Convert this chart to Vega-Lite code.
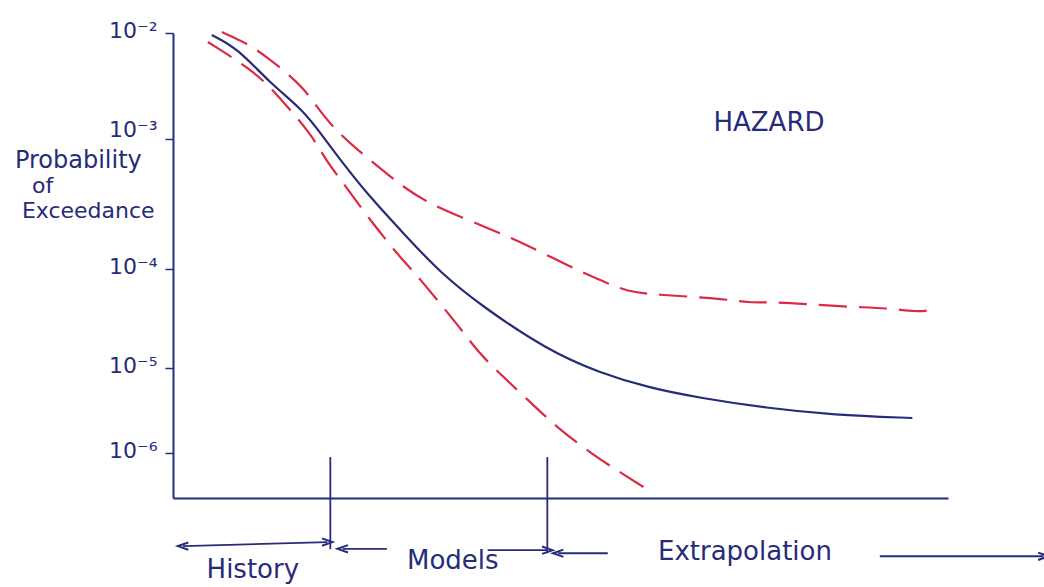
{
  "$schema": "https://vega.github.io/schema/vega-lite/v6.json",
  "width": 775,
  "height": 465,
  "autosize": "none",
  "padding": {"left": 173, "top": 33, "right": 96, "bottom": 89},
  "background": "white",
  "config": {"view": {"stroke": null}, "font": "DejaVu Sans"},
  "datasets": {
    "curves": [
      {"series": "central", "x": 5.0, "p": 0.00957},
      {"series": "central", "x": 8.3, "p": 0.00722},
      {"series": "central", "x": 12.5, "p": 0.00337},
      {"series": "central", "x": 16.8, "p": 0.00188},
      {"series": "central", "x": 19.4, "p": 0.001045},
      {"series": "central", "x": 21.9, "p": 0.000654},
      {"series": "central", "x": 25.4, "p": 0.000358},
      {"series": "central", "x": 29.7, "p": 0.000189},
      {"series": "central", "x": 34.5, "p": 0.0000912},
      {"series": "central", "x": 40.0, "p": 0.0000413},
      {"series": "central", "x": 48.3, "p": 0.0000152},
      {"series": "central", "x": 55.1, "p": 0.00000873},
      {"series": "central", "x": 61.5, "p": 0.00000582},
      {"series": "central", "x": 68.0, "p": 0.00000444},
      {"series": "central", "x": 76.6, "p": 0.00000338},
      {"series": "central", "x": 85.2, "p": 0.0000028},
      {"series": "central", "x": 95.4, "p": 0.00000258},
      {"series": "upper", "x": 6.3, "p": 0.0102},
      {"series": "upper", "x": 9.5, "p": 0.00805},
      {"series": "upper", "x": 12.1, "p": 0.00594},
      {"series": "upper", "x": 14.7, "p": 0.0042},
      {"series": "upper", "x": 16.8, "p": 0.00303},
      {"series": "upper", "x": 18.7, "p": 0.00196},
      {"series": "upper", "x": 20.6, "p": 0.0013},
      {"series": "upper", "x": 23.5, "p": 0.000853},
      {"series": "upper", "x": 27.0, "p": 0.000578},
      {"series": "upper", "x": 29.7, "p": 0.000428},
      {"series": "upper", "x": 32.9, "p": 0.000322},
      {"series": "upper", "x": 37.4, "p": 0.000247},
      {"series": "upper", "x": 41.8, "p": 0.000193},
      {"series": "upper", "x": 45.7, "p": 0.000153},
      {"series": "upper", "x": 50.8, "p": 0.000107},
      {"series": "upper", "x": 55.1, "p": 0.0000774},
      {"series": "upper", "x": 58.6, "p": 0.0000586},
      {"series": "upper", "x": 62.8, "p": 0.0000546},
      {"series": "upper", "x": 70.2, "p": 0.0000509},
      {"series": "upper", "x": 74.5, "p": 0.0000454},
      {"series": "upper", "x": 77.4, "p": 0.0000464},
      {"series": "upper", "x": 81.8, "p": 0.0000442},
      {"series": "upper", "x": 87.4, "p": 0.0000413},
      {"series": "upper", "x": 92.1, "p": 0.0000404},
      {"series": "upper", "x": 96.0, "p": 0.0000368},
      {"series": "upper", "x": 97.7, "p": 0.0000385},
      {"series": "lower", "x": 4.5, "p": 0.00822},
      {"series": "lower", "x": 10.2, "p": 0.00448},
      {"series": "lower", "x": 12.9, "p": 0.0029},
      {"series": "lower", "x": 15.1, "p": 0.00188},
      {"series": "lower", "x": 17.7, "p": 0.00114},
      {"series": "lower", "x": 19.9, "p": 0.000665},
      {"series": "lower", "x": 21.2, "p": 0.000528},
      {"series": "lower", "x": 25.7, "p": 0.000226},
      {"series": "lower", "x": 29.5, "p": 0.000119},
      {"series": "lower", "x": 31.6, "p": 0.000085},
      {"series": "lower", "x": 38.3, "p": 0.0000192},
      {"series": "lower", "x": 39.6, "p": 0.0000135},
      {"series": "lower", "x": 46.5, "p": 0.00000367},
      {"series": "lower", "x": 49.5, "p": 0.00000202},
      {"series": "lower", "x": 54.2, "p": 0.000000947},
      {"series": "lower", "x": 57.9, "p": 0.000000582},
      {"series": "lower", "x": 61.8, "p": 0.000000348}
    ],
    "dividers": [
      {"x": 20.3, "p_top": 0.000000897, "p_bottom": 0.0000000762},
      {"x": 48.3, "p_top": 0.000000897, "p_bottom": 0.0000000684}
    ],
    "arrows": [
      {"x1": 1.3, "p1": 0.0000000828, "x2": 19.9, "p2": 0.0000000922, "head_left": true, "head_right": true},
      {"x1": 21.9, "p1": 0.000000077, "x2": 27.6, "p2": 0.000000077, "head_left": true, "head_right": false},
      {"x1": 40.6, "p1": 0.0000000743, "x2": 48.3, "p2": 0.0000000743, "head_left": false, "head_right": true},
      {"x1": 49.7, "p1": 0.0000000684, "x2": 56.1, "p2": 0.0000000684, "head_left": true, "head_right": false},
      {"x1": 91.2, "p1": 0.0000000631, "x2": 112.3, "p2": 0.0000000631, "head_left": false, "head_right": true}
    ],
    "ylabel_top": [
      {"text": "Probability", "x": -20.4, "p": 0.000595}
    ],
    "ylabel": [
      {"text": "of", "x": -18.2, "p": 0.000385},
      {"text": "Exceedance", "x": -19.5, "p": 0.000245}
    ],
    "phases": [
      {"text": "History", "x": 10.3, "p": 0.0000000357},
      {"text": "Models", "x": 36.1, "p": 0.0000000444},
      {"text": "Extrapolation", "x": 73.8, "p": 0.0000000566}
    ],
    "title": [
      {"text": "HAZARD", "x": 76.9, "p": 0.00119}
    ]
  },
  "encoding": {
    "x": {
      "field": "x",
      "type": "quantitative",
      "scale": {"domain": [0, 100], "nice": false, "zero": false},
      "axis": {"title": null, "labels": false, "ticks": false, "grid": false, "domainColor": "#262c78", "domainWidth": 2}
    },
    "y": {
      "field": "p",
      "type": "quantitative",
      "scale": {
        "type": "log",
        "domain": [3e-7, 1e-6, 1e-5, 1e-4, 1e-3, 1e-2],
        "range": [465, 420, 335, 236, 106, 0],
        "nice": false
      },
      "axis": {
        "title": null,
        "grid": false,
        "values": [1e-6, 1e-5, 1e-4, 1e-3, 1e-2],
        "labelExpr": "'10' + ['⁰','⁻¹','⁻²','⁻³','⁻⁴','⁻⁵','⁻⁶'][round(-log(datum.value)/LN10)]",
        "labelFont": "DejaVu Sans",
        "labelFontSize": 22,
        "labelColor": "#262c78",
        "labelPadding": 8,
        "labelOffset": {"condition": {"test": "abs(datum.value - 0.001) < 0.0000001", "value": -10}, "value": -3},
        "labelOverlap": false,
        "domainColor": "#262c78",
        "domainWidth": 2,
        "tickColor": "#262c78",
        "tickSize": 8,
        "tickWidth": 1.5
      }
    }
  },
  "layer": [
    {
      "data": {"name": "curves"},
      "transform": [{"filter": "datum.series === 'central'"}],
      "mark": {"type": "line", "color": "#262c78", "strokeWidth": 2.2, "interpolate": "basis"}
    },
    {
      "data": {"name": "curves"},
      "transform": [{"filter": "datum.series !== 'central'"}],
      "mark": {"type": "line", "color": "#dc2a45", "strokeWidth": 2.2, "strokeDash": [28, 12], "interpolate": "basis"},
      "encoding": {"detail": {"field": "series"}}
    },
    {
      "data": {"name": "dividers"},
      "mark": {"type": "rule", "color": "#262c78", "strokeWidth": 1.8},
      "encoding": {
        "y": {"field": "p_top", "type": "quantitative"},
        "y2": {"field": "p_bottom"}
      }
    },
    {
      "data": {"name": "arrows"},
      "mark": {"type": "rule", "color": "#262c78", "strokeWidth": 1.8},
      "encoding": {
        "x": {"field": "x1", "type": "quantitative"},
        "x2": {"field": "x2"},
        "y": {"field": "p1", "type": "quantitative"},
        "y2": {"field": "p2"}
      }
    },
    {
      "data": {"name": "arrows"},
      "transform": [{"filter": "datum.head_left"}],
      "mark": {"type": "point", "shape": "M1,-0.7L-1,0L1,0.7", "size": 110, "filled": false, "color": "#262c78", "strokeWidth": 2, "opacity": 1},
      "encoding": {
        "x": {"field": "x1", "type": "quantitative"},
        "y": {"field": "p1", "type": "quantitative"}
      }
    },
    {
      "data": {"name": "arrows"},
      "transform": [{"filter": "datum.head_right"}],
      "mark": {"type": "point", "shape": "M-1,-0.7L1,0L-1,0.7", "size": 110, "filled": false, "color": "#262c78", "strokeWidth": 2, "opacity": 1},
      "encoding": {
        "x": {"field": "x2", "type": "quantitative"},
        "y": {"field": "p2", "type": "quantitative"}
      }
    },
    {
      "data": {"name": "ylabel_top"},
      "mark": {"type": "text", "align": "left", "baseline": "alphabetic", "font": "DejaVu Sans", "fontSize": 24, "color": "#262c78"},
      "encoding": {"text": {"field": "text"}}
    },
    {
      "data": {"name": "ylabel"},
      "mark": {"type": "text", "align": "left", "baseline": "alphabetic", "font": "DejaVu Sans", "fontSize": 22, "color": "#262c78"},
      "encoding": {"text": {"field": "text"}}
    },
    {
      "data": {"name": "phases"},
      "mark": {"type": "text", "align": "center", "baseline": "alphabetic", "font": "DejaVu Sans", "fontSize": 26, "color": "#262c78"},
      "encoding": {"text": {"field": "text"}}
    },
    {
      "data": {"name": "title"},
      "mark": {"type": "text", "align": "center", "baseline": "alphabetic", "font": "DejaVu Sans", "fontSize": 26, "color": "#262c78"},
      "encoding": {"text": {"field": "text"}}
    }
  ]
}
